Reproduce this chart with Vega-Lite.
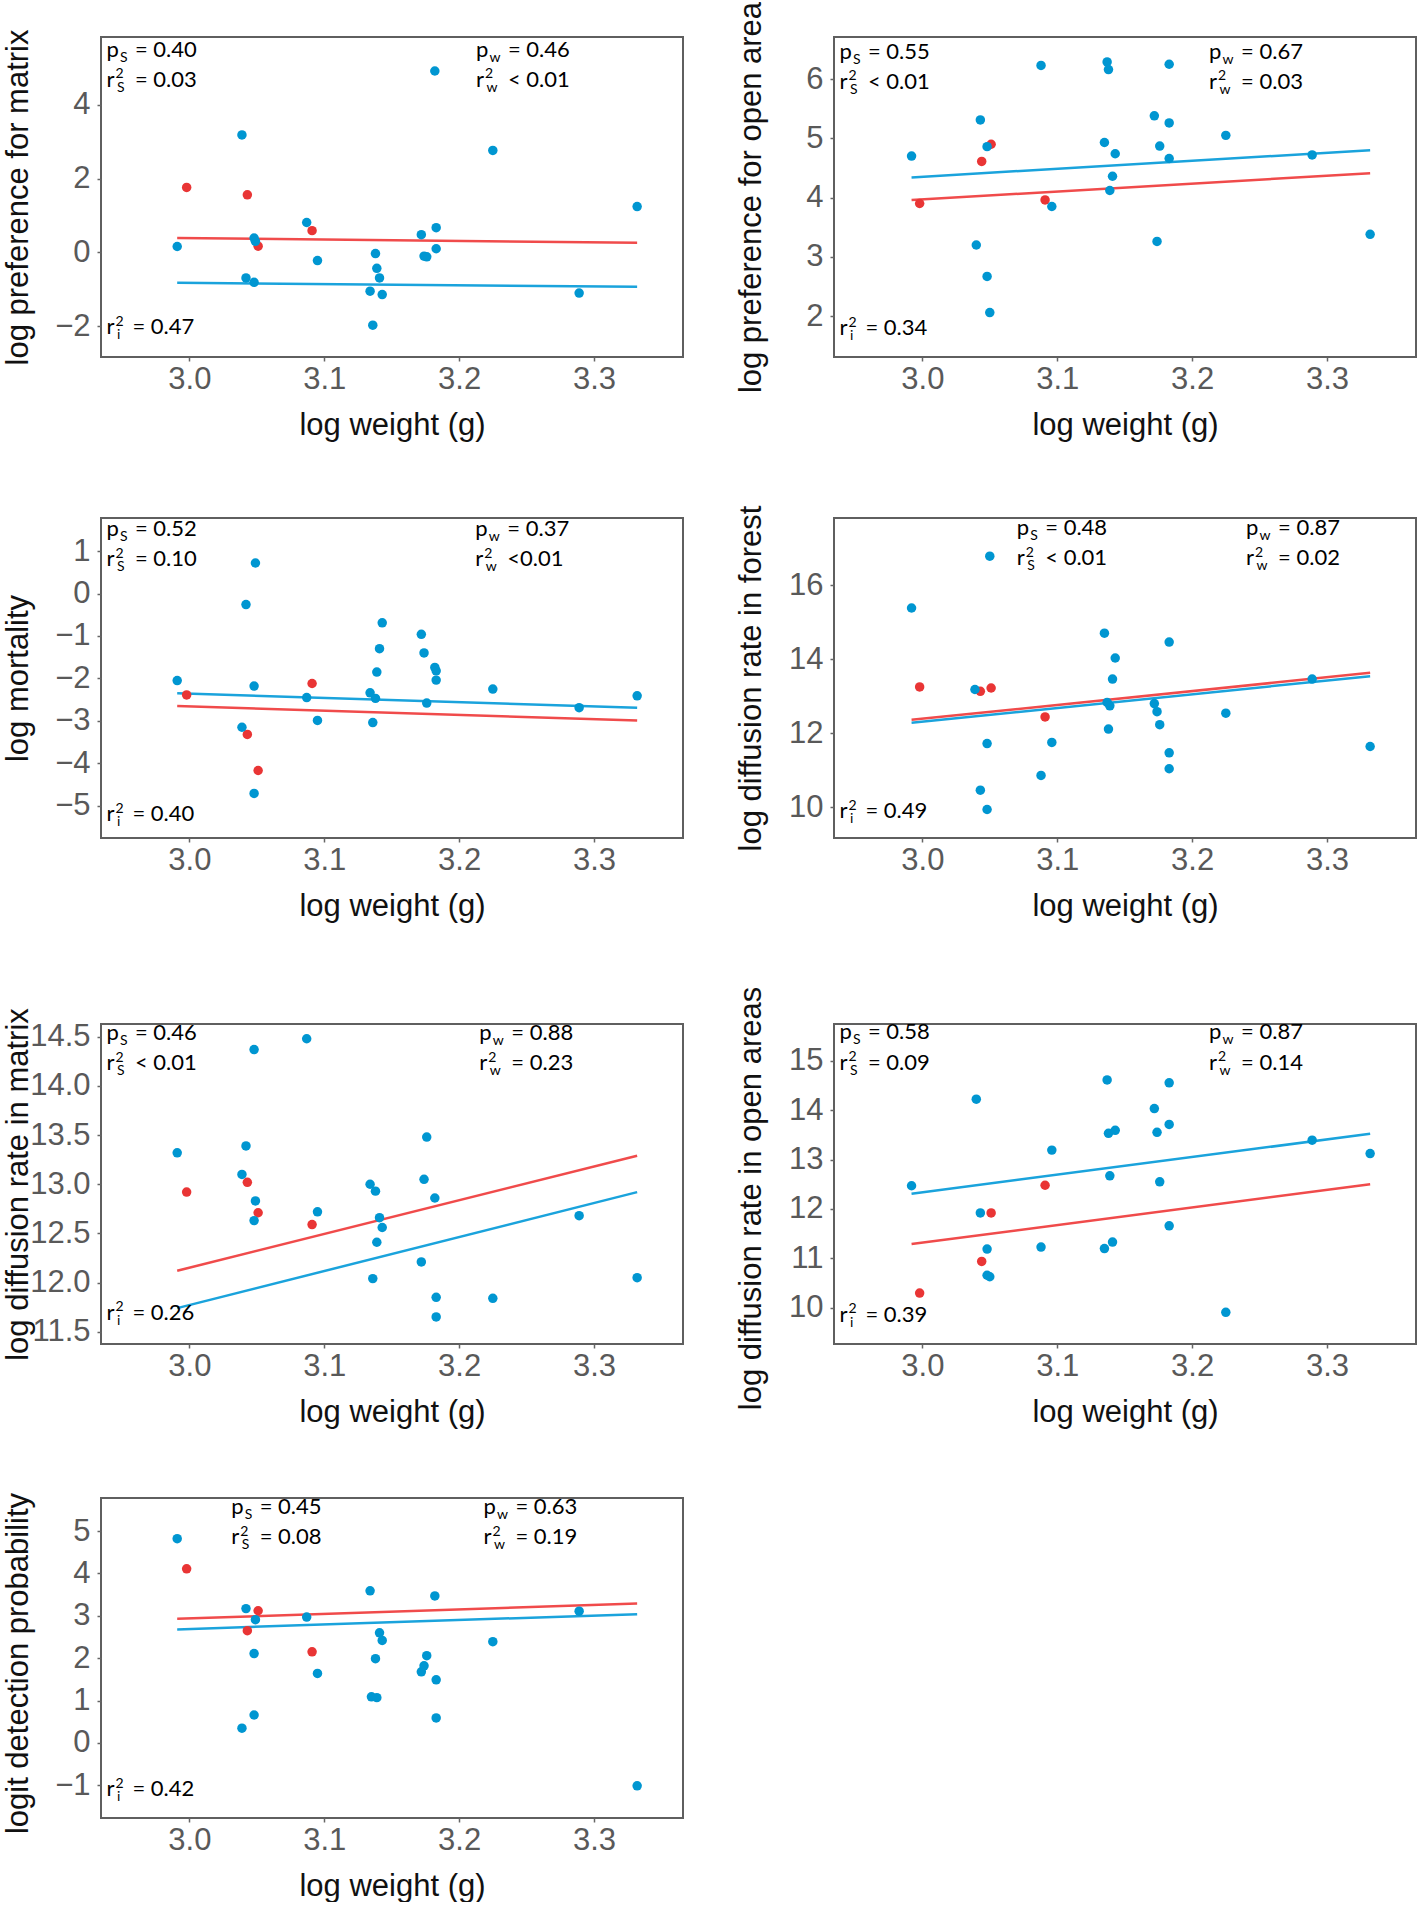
{
  "$schema": "https://vega.github.io/schema/vega-lite/v6.json",
  "background": "white",
  "padding": {"left": 0, "top": 0, "right": 0, "bottom": 0},
  "spacing": 63,
  "config": {
    "view": {"stroke": "#5f5f5f", "strokeWidth": 2},
    "axis": {"domain": false, "grid": false, "tickColor": "#666666", "tickSize": 4, "tickWidth": 1.5, "labelFont": "Liberation Sans", "labelFontSize": 31, "labelColor": "#595959", "titleFont": "Liberation Sans", "titleFontSize": 31, "titleFontWeight": "normal", "titleColor": "#111111"},
    "axisX": {"labelBaseline": "alphabetic", "labelPadding": 27, "titleY": 77, "titleBaseline": "alphabetic"},
    "axisY": {"labelPadding": 7, "titleX": -74, "titleY": 160, "titleBaseline": "alphabetic"}
  },
  "datasets": {
    "d": [
      {"p":1,"k":"ln","c":"B","x":2.991,"y":0.39},{"p":1,"k":"ln","c":"B","x":3.332,"y":0.26},
      {"p":1,"k":"ln","c":"A","x":2.991,"y":-0.82},{"p":1,"k":"ln","c":"A","x":3.332,"y":-0.93},
      {"p":1,"k":"pt","c":"B","x":2.998,"y":1.76},{"p":1,"k":"pt","c":"B","x":3.043,"y":1.56},{"p":1,"k":"pt","c":"B","x":3.051,"y":0.17},{"p":1,"k":"pt","c":"B","x":3.091,"y":0.59},
      {"p":1,"k":"pt","c":"A","x":2.991,"y":0.16},{"p":1,"k":"pt","c":"A","x":3.039,"y":3.18},{"p":1,"k":"pt","c":"A","x":3.042,"y":-0.69},{"p":1,"k":"pt","c":"A","x":3.048,"y":0.39},{"p":1,"k":"pt","c":"A","x":3.049,"y":0.30},{"p":1,"k":"pt","c":"A","x":3.048,"y":-0.81},{"p":1,"k":"pt","c":"A","x":3.087,"y":0.81},{"p":1,"k":"pt","c":"A","x":3.095,"y":-0.22},{"p":1,"k":"pt","c":"A","x":3.134,"y":-1.05},{"p":1,"k":"pt","c":"A","x":3.138,"y":-0.03},{"p":1,"k":"pt","c":"A","x":3.139,"y":-0.43},{"p":1,"k":"pt","c":"A","x":3.141,"y":-0.69},{"p":1,"k":"pt","c":"A","x":3.143,"y":-1.14},{"p":1,"k":"pt","c":"A","x":3.136,"y":-1.97},{"p":1,"k":"pt","c":"A","x":3.172,"y":0.48},{"p":1,"k":"pt","c":"A","x":3.174,"y":-0.10},{"p":1,"k":"pt","c":"A","x":3.176,"y":-0.12},{"p":1,"k":"pt","c":"A","x":3.182,"y":4.91},{"p":1,"k":"pt","c":"A","x":3.183,"y":0.67},{"p":1,"k":"pt","c":"A","x":3.183,"y":0.10},{"p":1,"k":"pt","c":"A","x":3.225,"y":2.76},{"p":1,"k":"pt","c":"A","x":3.289,"y":-1.10},{"p":1,"k":"pt","c":"A","x":3.332,"y":1.24},
      {"p":1,"k":"an","x":2.9385,"y":5.29,"b":"p","s":"S","v":"= 0.40"},{"p":1,"k":"an","x":2.9385,"y":4.48,"b":"r","s":"S","v":"= 0.03"},{"p":1,"k":"an","x":3.2125,"y":5.29,"b":"p","s":"w","v":"= 0.46"},{"p":1,"k":"an","x":3.2125,"y":4.48,"b":"r","s":"w","v":"< 0.01"},{"p":1,"k":"an","x":2.9385,"y":-2.22,"b":"r","s":"i","v":"= 0.47"},

      {"p":2,"k":"ln","c":"B","x":2.992,"y":3.96},{"p":2,"k":"ln","c":"B","x":3.332,"y":4.41},
      {"p":2,"k":"ln","c":"A","x":2.992,"y":4.34},{"p":2,"k":"ln","c":"A","x":3.332,"y":4.80},
      {"p":2,"k":"pt","c":"B","x":2.998,"y":3.90},{"p":2,"k":"pt","c":"B","x":3.044,"y":4.61},{"p":2,"k":"pt","c":"B","x":3.051,"y":4.90},{"p":2,"k":"pt","c":"B","x":3.091,"y":3.96},
      {"p":2,"k":"pt","c":"A","x":2.992,"y":4.70},{"p":2,"k":"pt","c":"A","x":3.040,"y":3.20},{"p":2,"k":"pt","c":"A","x":3.043,"y":5.31},{"p":2,"k":"pt","c":"A","x":3.048,"y":4.86},{"p":2,"k":"pt","c":"A","x":3.048,"y":2.67},{"p":2,"k":"pt","c":"A","x":3.050,"y":2.06},{"p":2,"k":"pt","c":"A","x":3.088,"y":6.23},{"p":2,"k":"pt","c":"A","x":3.096,"y":3.85},{"p":2,"k":"pt","c":"A","x":3.135,"y":4.93},{"p":2,"k":"pt","c":"A","x":3.137,"y":6.29},{"p":2,"k":"pt","c":"A","x":3.138,"y":6.16},{"p":2,"k":"pt","c":"A","x":3.139,"y":4.12},{"p":2,"k":"pt","c":"A","x":3.141,"y":4.36},{"p":2,"k":"pt","c":"A","x":3.143,"y":4.74},{"p":2,"k":"pt","c":"A","x":3.172,"y":5.38},{"p":2,"k":"pt","c":"A","x":3.174,"y":3.26},{"p":2,"k":"pt","c":"A","x":3.176,"y":4.87},{"p":2,"k":"pt","c":"A","x":3.183,"y":5.26},{"p":2,"k":"pt","c":"A","x":3.183,"y":4.66},{"p":2,"k":"pt","c":"A","x":3.183,"y":6.25},{"p":2,"k":"pt","c":"A","x":3.225,"y":5.05},{"p":2,"k":"pt","c":"A","x":3.289,"y":4.72},{"p":2,"k":"pt","c":"A","x":3.332,"y":3.38},
      {"p":2,"k":"an","x":2.9385,"y":6.34,"b":"p","s":"S","v":"= 0.55"},{"p":2,"k":"an","x":2.9385,"y":5.84,"b":"r","s":"S","v":"< 0.01"},{"p":2,"k":"an","x":3.2126,"y":6.34,"b":"p","s":"w","v":"=  0.67"},{"p":2,"k":"an","x":3.2126,"y":5.84,"b":"r","s":"w","v":"= 0.03"},{"p":2,"k":"an","x":2.9385,"y":1.68,"b":"r","s":"i","v":"= 0.34"},

      {"p":3,"k":"ln","c":"B","x":2.991,"y":-2.65},{"p":3,"k":"ln","c":"B","x":3.332,"y":-2.99},
      {"p":3,"k":"ln","c":"A","x":2.991,"y":-2.35},{"p":3,"k":"ln","c":"A","x":3.332,"y":-2.69},
      {"p":3,"k":"pt","c":"B","x":2.998,"y":-2.39},{"p":3,"k":"pt","c":"B","x":3.043,"y":-3.32},{"p":3,"k":"pt","c":"B","x":3.051,"y":-4.17},{"p":3,"k":"pt","c":"B","x":3.091,"y":-2.12},
      {"p":3,"k":"pt","c":"A","x":2.991,"y":-2.05},{"p":3,"k":"pt","c":"A","x":3.039,"y":-3.15},{"p":3,"k":"pt","c":"A","x":3.042,"y":-0.26},{"p":3,"k":"pt","c":"A","x":3.048,"y":-2.18},{"p":3,"k":"pt","c":"A","x":3.049,"y":0.72},{"p":3,"k":"pt","c":"A","x":3.048,"y":-4.71},{"p":3,"k":"pt","c":"A","x":3.087,"y":-2.45},{"p":3,"k":"pt","c":"A","x":3.095,"y":-2.99},{"p":3,"k":"pt","c":"A","x":3.134,"y":-2.34},{"p":3,"k":"pt","c":"A","x":3.136,"y":-3.04},{"p":3,"k":"pt","c":"A","x":3.138,"y":-2.47},{"p":3,"k":"pt","c":"A","x":3.139,"y":-1.85},{"p":3,"k":"pt","c":"A","x":3.141,"y":-1.30},{"p":3,"k":"pt","c":"A","x":3.143,"y":-0.69},{"p":3,"k":"pt","c":"A","x":3.172,"y":-0.96},{"p":3,"k":"pt","c":"A","x":3.174,"y":-1.40},{"p":3,"k":"pt","c":"A","x":3.176,"y":-2.58},{"p":3,"k":"pt","c":"A","x":3.182,"y":-1.74},{"p":3,"k":"pt","c":"A","x":3.183,"y":-1.82},{"p":3,"k":"pt","c":"A","x":3.183,"y":-2.04},{"p":3,"k":"pt","c":"A","x":3.225,"y":-2.25},{"p":3,"k":"pt","c":"A","x":3.289,"y":-2.69},{"p":3,"k":"pt","c":"A","x":3.332,"y":-2.41},
      {"p":3,"k":"an","x":2.9385,"y":1.35,"b":"p","s":"S","v":"= 0.52"},{"p":3,"k":"an","x":2.9385,"y":0.64,"b":"r","s":"S","v":"= 0.10"},{"p":3,"k":"an","x":3.212,"y":1.35,"b":"p","s":"w","v":"= 0.37"},{"p":3,"k":"an","x":3.212,"y":0.64,"b":"r","s":"w","v":"<0.01"},{"p":3,"k":"an","x":2.9385,"y":-5.37,"b":"r","s":"i","v":"= 0.40"},

      {"p":4,"k":"ln","c":"B","x":2.992,"y":12.36},{"p":4,"k":"ln","c":"B","x":3.332,"y":13.63},
      {"p":4,"k":"ln","c":"A","x":2.992,"y":12.28},{"p":4,"k":"ln","c":"A","x":3.332,"y":13.54},
      {"p":4,"k":"pt","c":"B","x":2.998,"y":13.25},{"p":4,"k":"pt","c":"B","x":3.043,"y":13.13},{"p":4,"k":"pt","c":"B","x":3.051,"y":13.22},{"p":4,"k":"pt","c":"B","x":3.091,"y":12.44},
      {"p":4,"k":"pt","c":"A","x":2.992,"y":15.38},{"p":4,"k":"pt","c":"A","x":3.039,"y":13.18},{"p":4,"k":"pt","c":"A","x":3.043,"y":10.46},{"p":4,"k":"pt","c":"A","x":3.048,"y":11.72},{"p":4,"k":"pt","c":"A","x":3.048,"y":9.94},{"p":4,"k":"pt","c":"A","x":3.050,"y":16.78},{"p":4,"k":"pt","c":"A","x":3.088,"y":10.86},{"p":4,"k":"pt","c":"A","x":3.096,"y":11.75},{"p":4,"k":"pt","c":"A","x":3.135,"y":14.70},{"p":4,"k":"pt","c":"A","x":3.137,"y":12.83},{"p":4,"k":"pt","c":"A","x":3.138,"y":12.11},{"p":4,"k":"pt","c":"A","x":3.139,"y":12.74},{"p":4,"k":"pt","c":"A","x":3.141,"y":13.46},{"p":4,"k":"pt","c":"A","x":3.143,"y":14.03},{"p":4,"k":"pt","c":"A","x":3.172,"y":12.80},{"p":4,"k":"pt","c":"A","x":3.174,"y":12.58},{"p":4,"k":"pt","c":"A","x":3.176,"y":12.23},{"p":4,"k":"pt","c":"A","x":3.183,"y":14.46},{"p":4,"k":"pt","c":"A","x":3.183,"y":11.47},{"p":4,"k":"pt","c":"A","x":3.183,"y":11.04},{"p":4,"k":"pt","c":"A","x":3.225,"y":12.54},{"p":4,"k":"pt","c":"A","x":3.289,"y":13.46},{"p":4,"k":"pt","c":"A","x":3.332,"y":11.64},
      {"p":4,"k":"an","x":3.070,"y":17.35,"b":"p","s":"S","v":"= 0.48"},{"p":4,"k":"an","x":3.070,"y":16.54,"b":"r","s":"S","v":"< 0.01"},{"p":4,"k":"an","x":3.240,"y":17.35,"b":"p","s":"w","v":"= 0.87"},{"p":4,"k":"an","x":3.240,"y":16.54,"b":"r","s":"w","v":"= 0.02"},{"p":4,"k":"an","x":2.9385,"y":9.71,"b":"r","s":"i","v":"= 0.49"},

      {"p":5,"k":"ln","c":"B","x":2.991,"y":12.12},{"p":5,"k":"ln","c":"B","x":3.332,"y":13.29},
      {"p":5,"k":"ln","c":"A","x":2.991,"y":11.74},{"p":5,"k":"ln","c":"A","x":3.332,"y":12.92},
      {"p":5,"k":"pt","c":"B","x":2.998,"y":12.92},{"p":5,"k":"pt","c":"B","x":3.043,"y":13.02},{"p":5,"k":"pt","c":"B","x":3.051,"y":12.71},{"p":5,"k":"pt","c":"B","x":3.091,"y":12.59},
      {"p":5,"k":"pt","c":"A","x":2.991,"y":13.32},{"p":5,"k":"pt","c":"A","x":3.039,"y":13.10},{"p":5,"k":"pt","c":"A","x":3.042,"y":13.39},{"p":5,"k":"pt","c":"A","x":3.048,"y":14.37},{"p":5,"k":"pt","c":"A","x":3.049,"y":12.83},{"p":5,"k":"pt","c":"A","x":3.048,"y":12.63},{"p":5,"k":"pt","c":"A","x":3.087,"y":14.48},{"p":5,"k":"pt","c":"A","x":3.095,"y":12.72},{"p":5,"k":"pt","c":"A","x":3.134,"y":13.00},{"p":5,"k":"pt","c":"A","x":3.136,"y":12.04},{"p":5,"k":"pt","c":"A","x":3.138,"y":12.93},{"p":5,"k":"pt","c":"A","x":3.139,"y":12.41},{"p":5,"k":"pt","c":"A","x":3.141,"y":12.66},{"p":5,"k":"pt","c":"A","x":3.143,"y":12.56},{"p":5,"k":"pt","c":"A","x":3.172,"y":12.21},{"p":5,"k":"pt","c":"A","x":3.174,"y":13.05},{"p":5,"k":"pt","c":"A","x":3.176,"y":13.48},{"p":5,"k":"pt","c":"A","x":3.182,"y":12.86},{"p":5,"k":"pt","c":"A","x":3.183,"y":11.85},{"p":5,"k":"pt","c":"A","x":3.183,"y":11.65},{"p":5,"k":"pt","c":"A","x":3.225,"y":11.84},{"p":5,"k":"pt","c":"A","x":3.289,"y":12.68},{"p":5,"k":"pt","c":"A","x":3.332,"y":12.05},
      {"p":5,"k":"an","x":2.9385,"y":14.47,"b":"p","s":"S","v":"= 0.46"},{"p":5,"k":"an","x":2.9385,"y":14.16,"b":"r","s":"S","v":"< 0.01"},{"p":5,"k":"an","x":3.215,"y":14.47,"b":"p","s":"w","v":"= 0.88"},{"p":5,"k":"an","x":3.215,"y":14.16,"b":"r","s":"w","v":"= 0.23"},{"p":5,"k":"an","x":2.9385,"y":11.62,"b":"r","s":"i","v":"= 0.26"},

      {"p":6,"k":"ln","c":"B","x":2.992,"y":11.29},{"p":6,"k":"ln","c":"B","x":3.332,"y":12.50},
      {"p":6,"k":"ln","c":"A","x":2.992,"y":12.31},{"p":6,"k":"ln","c":"A","x":3.332,"y":13.52},
      {"p":6,"k":"pt","c":"B","x":2.998,"y":10.30},{"p":6,"k":"pt","c":"B","x":3.044,"y":10.94},{"p":6,"k":"pt","c":"B","x":3.051,"y":11.92},{"p":6,"k":"pt","c":"B","x":3.091,"y":12.48},
      {"p":6,"k":"pt","c":"A","x":2.992,"y":12.47},{"p":6,"k":"pt","c":"A","x":3.040,"y":14.22},{"p":6,"k":"pt","c":"A","x":3.043,"y":11.92},{"p":6,"k":"pt","c":"A","x":3.048,"y":11.19},{"p":6,"k":"pt","c":"A","x":3.048,"y":10.66},{"p":6,"k":"pt","c":"A","x":3.050,"y":10.63},{"p":6,"k":"pt","c":"A","x":3.088,"y":11.23},{"p":6,"k":"pt","c":"A","x":3.096,"y":13.19},{"p":6,"k":"pt","c":"A","x":3.135,"y":11.20},{"p":6,"k":"pt","c":"A","x":3.137,"y":14.61},{"p":6,"k":"pt","c":"A","x":3.138,"y":13.53},{"p":6,"k":"pt","c":"A","x":3.139,"y":12.67},{"p":6,"k":"pt","c":"A","x":3.141,"y":11.33},{"p":6,"k":"pt","c":"A","x":3.143,"y":13.59},{"p":6,"k":"pt","c":"A","x":3.172,"y":14.03},{"p":6,"k":"pt","c":"A","x":3.174,"y":13.55},{"p":6,"k":"pt","c":"A","x":3.176,"y":12.55},{"p":6,"k":"pt","c":"A","x":3.183,"y":13.71},{"p":6,"k":"pt","c":"A","x":3.183,"y":11.66},{"p":6,"k":"pt","c":"A","x":3.183,"y":14.55},{"p":6,"k":"pt","c":"A","x":3.225,"y":9.91},{"p":6,"k":"pt","c":"A","x":3.289,"y":13.39},{"p":6,"k":"pt","c":"A","x":3.332,"y":13.12},
      {"p":6,"k":"an","x":2.9385,"y":15.43,"b":"p","s":"S","v":"= 0.58"},{"p":6,"k":"an","x":2.9385,"y":14.82,"b":"r","s":"S","v":"= 0.09"},{"p":6,"k":"an","x":3.2126,"y":15.43,"b":"p","s":"w","v":"=  0.87"},{"p":6,"k":"an","x":3.2126,"y":14.82,"b":"r","s":"w","v":"= 0.14"},{"p":6,"k":"an","x":2.9385,"y":9.72,"b":"r","s":"i","v":"= 0.39"},

      {"p":7,"k":"ln","c":"B","x":2.991,"y":2.93},{"p":7,"k":"ln","c":"B","x":3.332,"y":3.29},
      {"p":7,"k":"ln","c":"A","x":2.991,"y":2.68},{"p":7,"k":"ln","c":"A","x":3.332,"y":3.04},
      {"p":7,"k":"pt","c":"B","x":2.998,"y":4.11},{"p":7,"k":"pt","c":"B","x":3.043,"y":2.65},{"p":7,"k":"pt","c":"B","x":3.051,"y":3.12},{"p":7,"k":"pt","c":"B","x":3.091,"y":2.15},
      {"p":7,"k":"pt","c":"A","x":2.991,"y":4.82},{"p":7,"k":"pt","c":"A","x":3.039,"y":0.35},{"p":7,"k":"pt","c":"A","x":3.042,"y":3.17},{"p":7,"k":"pt","c":"A","x":3.048,"y":2.11},{"p":7,"k":"pt","c":"A","x":3.049,"y":2.91},{"p":7,"k":"pt","c":"A","x":3.048,"y":0.66},{"p":7,"k":"pt","c":"A","x":3.087,"y":2.97},{"p":7,"k":"pt","c":"A","x":3.095,"y":1.64},{"p":7,"k":"pt","c":"A","x":3.134,"y":3.59},{"p":7,"k":"pt","c":"A","x":3.135,"y":1.09},{"p":7,"k":"pt","c":"A","x":3.138,"y":1.99},{"p":7,"k":"pt","c":"A","x":3.139,"y":1.07},{"p":7,"k":"pt","c":"A","x":3.141,"y":2.60},{"p":7,"k":"pt","c":"A","x":3.143,"y":2.42},{"p":7,"k":"pt","c":"A","x":3.172,"y":1.68},{"p":7,"k":"pt","c":"A","x":3.174,"y":1.82},{"p":7,"k":"pt","c":"A","x":3.176,"y":2.06},{"p":7,"k":"pt","c":"A","x":3.182,"y":3.47},{"p":7,"k":"pt","c":"A","x":3.183,"y":1.49},{"p":7,"k":"pt","c":"A","x":3.183,"y":0.59},{"p":7,"k":"pt","c":"A","x":3.225,"y":2.39},{"p":7,"k":"pt","c":"A","x":3.289,"y":3.11},{"p":7,"k":"pt","c":"A","x":3.332,"y":-1.01},
      {"p":7,"k":"an","x":3.031,"y":5.40,"b":"p","s":"S","v":"= 0.45"},{"p":7,"k":"an","x":3.031,"y":4.69,"b":"r","s":"S","v":"= 0.08"},{"p":7,"k":"an","x":3.218,"y":5.40,"b":"p","s":"w","v":"= 0.63"},{"p":7,"k":"an","x":3.218,"y":4.69,"b":"r","s":"w","v":"= 0.19"},{"p":7,"k":"an","x":2.9385,"y":-1.26,"b":"r","s":"i","v":"= 0.42"}
    ]
  },
  "vconcat": [
    {"spacing": 49, "hconcat": [
      {"width": 582, "height": 320, "data": {"name": "d"}, "transform": [{"filter": "datum.p == 1"}],
       "encoding": {
         "x": {"field": "x", "type": "quantitative", "scale": {"domain": [2.9345, 3.366], "nice": false, "zero": false}, "axis": {"values": [3.0, 3.1, 3.2, 3.3], "format": ".1f", "title": "log weight (g)"}},
         "y": {"field": "y", "type": "quantitative", "scale": {"domain": [-2.83, 5.83], "nice": false, "zero": false}, "axis": {"values": [-2, 0, 2, 4], "title": "log preference for matrix"}}},
       "layer": [
         {"transform": [{"filter": "datum.k == 'ln'"}], "mark": {"type": "line", "strokeWidth": 2.5}, "encoding": {"stroke": {"field": "c", "type": "nominal", "scale": {"domain": ["A", "B"], "range": ["#1aa3dc", "#f04b4b"]}, "legend": null}}},
         {"transform": [{"filter": "datum.k == 'pt'"}], "mark": {"type": "circle", "size": 90, "opacity": 1}, "encoding": {"fill": {"field": "c", "type": "nominal", "scale": {"domain": ["A", "B"], "range": ["#0096d1", "#e93535"]}, "legend": null}}},
         {"transform": [{"filter": "datum.k == 'an'"}], "mark": {"type": "text", "font": "Lato", "fontSize": 22, "align": "left", "baseline": "alphabetic", "color": "#000000"}, "encoding": {"text": {"field": "b"}}},
         {"transform": [{"filter": "datum.k == 'an' && datum.b == 'r'"}], "mark": {"type": "text", "font": "Lato", "fontSize": 14, "align": "left", "baseline": "alphabetic", "color": "#000000", "dx": 9, "dy": -8.5, "text": "2"}},
         {"transform": [{"filter": "datum.k == 'an' && datum.b == 'p'"}], "mark": {"type": "text", "font": "Lato", "fontSize": 14, "align": "left", "baseline": "alphabetic", "color": "#000000", "dx": 13.5, "dy": 5}, "encoding": {"text": {"field": "s"}}},
         {"transform": [{"filter": "datum.k == 'an' && datum.b == 'r'"}], "mark": {"type": "text", "font": "Lato", "fontSize": 14, "align": "left", "baseline": "alphabetic", "color": "#000000", "dx": 10.5, "dy": 5}, "encoding": {"text": {"field": "s"}}},
         {"transform": [{"filter": "datum.k == 'an' && datum.s == 'S'"}], "mark": {"type": "text", "font": "Lato", "fontSize": 22, "align": "left", "baseline": "alphabetic", "color": "#000000", "dx": 28.5}, "encoding": {"text": {"field": "v"}}},
         {"transform": [{"filter": "datum.k == 'an' && datum.s == 'w' && datum.b == 'p'"}], "mark": {"type": "text", "font": "Lato", "fontSize": 22, "align": "left", "baseline": "alphabetic", "color": "#000000", "dx": 32}, "encoding": {"text": {"field": "v"}}},
         {"transform": [{"filter": "datum.k == 'an' && datum.s == 'w' && datum.b == 'r'"}], "mark": {"type": "text", "font": "Lato", "fontSize": 22, "align": "left", "baseline": "alphabetic", "color": "#000000", "dx": 32}, "encoding": {"text": {"field": "v"}}},
         {"transform": [{"filter": "datum.k == 'an' && datum.s == 'i'"}], "mark": {"type": "text", "font": "Lato", "fontSize": 22, "align": "left", "baseline": "alphabetic", "color": "#000000", "dx": 26}, "encoding": {"text": {"field": "v"}}}
       ]},
      {"width": 582, "height": 320, "data": {"name": "d"}, "transform": [{"filter": "datum.p == 2"}],
       "encoding": {
         "x": {"field": "x", "type": "quantitative", "scale": {"domain": [2.9345, 3.366], "nice": false, "zero": false}, "axis": {"values": [3.0, 3.1, 3.2, 3.3], "format": ".1f", "title": "log weight (g)"}},
         "y": {"field": "y", "type": "quantitative", "scale": {"domain": [1.31, 6.71], "nice": false, "zero": false}, "axis": {"values": [2, 3, 4, 5, 6], "title": "log preference for open area"}}},
       "layer": [
         {"transform": [{"filter": "datum.k == 'ln'"}], "mark": {"type": "line", "strokeWidth": 2.5}, "encoding": {"stroke": {"field": "c", "type": "nominal", "scale": {"domain": ["A", "B"], "range": ["#1aa3dc", "#f04b4b"]}, "legend": null}}},
         {"transform": [{"filter": "datum.k == 'pt'"}], "mark": {"type": "circle", "size": 90, "opacity": 1}, "encoding": {"fill": {"field": "c", "type": "nominal", "scale": {"domain": ["A", "B"], "range": ["#0096d1", "#e93535"]}, "legend": null}}},
         {"transform": [{"filter": "datum.k == 'an'"}], "mark": {"type": "text", "font": "Lato", "fontSize": 22, "align": "left", "baseline": "alphabetic", "color": "#000000"}, "encoding": {"text": {"field": "b"}}},
         {"transform": [{"filter": "datum.k == 'an' && datum.b == 'r'"}], "mark": {"type": "text", "font": "Lato", "fontSize": 14, "align": "left", "baseline": "alphabetic", "color": "#000000", "dx": 9, "dy": -8.5, "text": "2"}},
         {"transform": [{"filter": "datum.k == 'an' && datum.b == 'p'"}], "mark": {"type": "text", "font": "Lato", "fontSize": 14, "align": "left", "baseline": "alphabetic", "color": "#000000", "dx": 13.5, "dy": 5}, "encoding": {"text": {"field": "s"}}},
         {"transform": [{"filter": "datum.k == 'an' && datum.b == 'r'"}], "mark": {"type": "text", "font": "Lato", "fontSize": 14, "align": "left", "baseline": "alphabetic", "color": "#000000", "dx": 10.5, "dy": 5}, "encoding": {"text": {"field": "s"}}},
         {"transform": [{"filter": "datum.k == 'an' && datum.s == 'S'"}], "mark": {"type": "text", "font": "Lato", "fontSize": 22, "align": "left", "baseline": "alphabetic", "color": "#000000", "dx": 28.5}, "encoding": {"text": {"field": "v"}}},
         {"transform": [{"filter": "datum.k == 'an' && datum.s == 'w' && datum.b == 'p'"}], "mark": {"type": "text", "font": "Lato", "fontSize": 22, "align": "left", "baseline": "alphabetic", "color": "#000000", "dx": 32}, "encoding": {"text": {"field": "v"}}},
         {"transform": [{"filter": "datum.k == 'an' && datum.s == 'w' && datum.b == 'r'"}], "mark": {"type": "text", "font": "Lato", "fontSize": 22, "align": "left", "baseline": "alphabetic", "color": "#000000", "dx": 32}, "encoding": {"text": {"field": "v"}}},
         {"transform": [{"filter": "datum.k == 'an' && datum.s == 'i'"}], "mark": {"type": "text", "font": "Lato", "fontSize": 22, "align": "left", "baseline": "alphabetic", "color": "#000000", "dx": 26}, "encoding": {"text": {"field": "v"}}}
       ]}
    ]},
    {"spacing": 49, "hconcat": [
      {"width": 582, "height": 320, "data": {"name": "d"}, "transform": [{"filter": "datum.p == 3"}],
       "encoding": {
         "x": {"field": "x", "type": "quantitative", "scale": {"domain": [2.9345, 3.366], "nice": false, "zero": false}, "axis": {"values": [3.0, 3.1, 3.2, 3.3], "format": ".1f", "title": "log weight (g)"}},
         "y": {"field": "y", "type": "quantitative", "scale": {"domain": [-5.76, 1.78], "nice": false, "zero": false}, "axis": {"values": [-5, -4, -3, -2, -1, 0, 1], "title": "log mortality"}}},
       "layer": [
         {"transform": [{"filter": "datum.k == 'ln'"}], "mark": {"type": "line", "strokeWidth": 2.5}, "encoding": {"stroke": {"field": "c", "type": "nominal", "scale": {"domain": ["A", "B"], "range": ["#1aa3dc", "#f04b4b"]}, "legend": null}}},
         {"transform": [{"filter": "datum.k == 'pt'"}], "mark": {"type": "circle", "size": 90, "opacity": 1}, "encoding": {"fill": {"field": "c", "type": "nominal", "scale": {"domain": ["A", "B"], "range": ["#0096d1", "#e93535"]}, "legend": null}}},
         {"transform": [{"filter": "datum.k == 'an'"}], "mark": {"type": "text", "font": "Lato", "fontSize": 22, "align": "left", "baseline": "alphabetic", "color": "#000000"}, "encoding": {"text": {"field": "b"}}},
         {"transform": [{"filter": "datum.k == 'an' && datum.b == 'r'"}], "mark": {"type": "text", "font": "Lato", "fontSize": 14, "align": "left", "baseline": "alphabetic", "color": "#000000", "dx": 9, "dy": -8.5, "text": "2"}},
         {"transform": [{"filter": "datum.k == 'an' && datum.b == 'p'"}], "mark": {"type": "text", "font": "Lato", "fontSize": 14, "align": "left", "baseline": "alphabetic", "color": "#000000", "dx": 13.5, "dy": 5}, "encoding": {"text": {"field": "s"}}},
         {"transform": [{"filter": "datum.k == 'an' && datum.b == 'r'"}], "mark": {"type": "text", "font": "Lato", "fontSize": 14, "align": "left", "baseline": "alphabetic", "color": "#000000", "dx": 10.5, "dy": 5}, "encoding": {"text": {"field": "s"}}},
         {"transform": [{"filter": "datum.k == 'an' && datum.s == 'S'"}], "mark": {"type": "text", "font": "Lato", "fontSize": 22, "align": "left", "baseline": "alphabetic", "color": "#000000", "dx": 28.5}, "encoding": {"text": {"field": "v"}}},
         {"transform": [{"filter": "datum.k == 'an' && datum.s == 'w' && datum.b == 'p'"}], "mark": {"type": "text", "font": "Lato", "fontSize": 22, "align": "left", "baseline": "alphabetic", "color": "#000000", "dx": 32}, "encoding": {"text": {"field": "v"}}},
         {"transform": [{"filter": "datum.k == 'an' && datum.s == 'w' && datum.b == 'r'"}], "mark": {"type": "text", "font": "Lato", "fontSize": 22, "align": "left", "baseline": "alphabetic", "color": "#000000", "dx": 32}, "encoding": {"text": {"field": "v"}}},
         {"transform": [{"filter": "datum.k == 'an' && datum.s == 'i'"}], "mark": {"type": "text", "font": "Lato", "fontSize": 22, "align": "left", "baseline": "alphabetic", "color": "#000000", "dx": 26}, "encoding": {"text": {"field": "v"}}}
       ]},
      {"width": 582, "height": 320, "data": {"name": "d"}, "transform": [{"filter": "datum.p == 4"}],
       "encoding": {
         "x": {"field": "x", "type": "quantitative", "scale": {"domain": [2.9345, 3.366], "nice": false, "zero": false}, "axis": {"values": [3.0, 3.1, 3.2, 3.3], "format": ".1f", "title": "log weight (g)"}},
         "y": {"field": "y", "type": "quantitative", "scale": {"domain": [9.17, 17.81], "nice": false, "zero": false}, "axis": {"values": [10, 12, 14, 16], "title": "log diffusion rate in forest"}}},
       "layer": [
         {"transform": [{"filter": "datum.k == 'ln'"}], "mark": {"type": "line", "strokeWidth": 2.5}, "encoding": {"stroke": {"field": "c", "type": "nominal", "scale": {"domain": ["A", "B"], "range": ["#1aa3dc", "#f04b4b"]}, "legend": null}}},
         {"transform": [{"filter": "datum.k == 'pt'"}], "mark": {"type": "circle", "size": 90, "opacity": 1}, "encoding": {"fill": {"field": "c", "type": "nominal", "scale": {"domain": ["A", "B"], "range": ["#0096d1", "#e93535"]}, "legend": null}}},
         {"transform": [{"filter": "datum.k == 'an'"}], "mark": {"type": "text", "font": "Lato", "fontSize": 22, "align": "left", "baseline": "alphabetic", "color": "#000000"}, "encoding": {"text": {"field": "b"}}},
         {"transform": [{"filter": "datum.k == 'an' && datum.b == 'r'"}], "mark": {"type": "text", "font": "Lato", "fontSize": 14, "align": "left", "baseline": "alphabetic", "color": "#000000", "dx": 9, "dy": -8.5, "text": "2"}},
         {"transform": [{"filter": "datum.k == 'an' && datum.b == 'p'"}], "mark": {"type": "text", "font": "Lato", "fontSize": 14, "align": "left", "baseline": "alphabetic", "color": "#000000", "dx": 13.5, "dy": 5}, "encoding": {"text": {"field": "s"}}},
         {"transform": [{"filter": "datum.k == 'an' && datum.b == 'r'"}], "mark": {"type": "text", "font": "Lato", "fontSize": 14, "align": "left", "baseline": "alphabetic", "color": "#000000", "dx": 10.5, "dy": 5}, "encoding": {"text": {"field": "s"}}},
         {"transform": [{"filter": "datum.k == 'an' && datum.s == 'S'"}], "mark": {"type": "text", "font": "Lato", "fontSize": 22, "align": "left", "baseline": "alphabetic", "color": "#000000", "dx": 28.5}, "encoding": {"text": {"field": "v"}}},
         {"transform": [{"filter": "datum.k == 'an' && datum.s == 'w' && datum.b == 'p'"}], "mark": {"type": "text", "font": "Lato", "fontSize": 22, "align": "left", "baseline": "alphabetic", "color": "#000000", "dx": 32}, "encoding": {"text": {"field": "v"}}},
         {"transform": [{"filter": "datum.k == 'an' && datum.s == 'w' && datum.b == 'r'"}], "mark": {"type": "text", "font": "Lato", "fontSize": 22, "align": "left", "baseline": "alphabetic", "color": "#000000", "dx": 32}, "encoding": {"text": {"field": "v"}}},
         {"transform": [{"filter": "datum.k == 'an' && datum.s == 'i'"}], "mark": {"type": "text", "font": "Lato", "fontSize": 22, "align": "left", "baseline": "alphabetic", "color": "#000000", "dx": 26}, "encoding": {"text": {"field": "v"}}}
       ]}
    ]},
    {"spacing": 49, "hconcat": [
      {"width": 582, "height": 320, "data": {"name": "d"}, "transform": [{"filter": "datum.p == 5"}],
       "encoding": {
         "x": {"field": "x", "type": "quantitative", "scale": {"domain": [2.9345, 3.366], "nice": false, "zero": false}, "axis": {"values": [3.0, 3.1, 3.2, 3.3], "format": ".1f", "title": "log weight (g)"}},
         "y": {"field": "y", "type": "quantitative", "scale": {"domain": [11.375, 14.63], "nice": false, "zero": false}, "axis": {"values": [11.5, 12, 12.5, 13, 13.5, 14, 14.5], "format": ".1f", "title": "log diffusion rate in matrix"}}},
       "layer": [
         {"transform": [{"filter": "datum.k == 'ln'"}], "mark": {"type": "line", "strokeWidth": 2.5}, "encoding": {"stroke": {"field": "c", "type": "nominal", "scale": {"domain": ["A", "B"], "range": ["#1aa3dc", "#f04b4b"]}, "legend": null}}},
         {"transform": [{"filter": "datum.k == 'pt'"}], "mark": {"type": "circle", "size": 90, "opacity": 1}, "encoding": {"fill": {"field": "c", "type": "nominal", "scale": {"domain": ["A", "B"], "range": ["#0096d1", "#e93535"]}, "legend": null}}},
         {"transform": [{"filter": "datum.k == 'an'"}], "mark": {"type": "text", "font": "Lato", "fontSize": 22, "align": "left", "baseline": "alphabetic", "color": "#000000"}, "encoding": {"text": {"field": "b"}}},
         {"transform": [{"filter": "datum.k == 'an' && datum.b == 'r'"}], "mark": {"type": "text", "font": "Lato", "fontSize": 14, "align": "left", "baseline": "alphabetic", "color": "#000000", "dx": 9, "dy": -8.5, "text": "2"}},
         {"transform": [{"filter": "datum.k == 'an' && datum.b == 'p'"}], "mark": {"type": "text", "font": "Lato", "fontSize": 14, "align": "left", "baseline": "alphabetic", "color": "#000000", "dx": 13.5, "dy": 5}, "encoding": {"text": {"field": "s"}}},
         {"transform": [{"filter": "datum.k == 'an' && datum.b == 'r'"}], "mark": {"type": "text", "font": "Lato", "fontSize": 14, "align": "left", "baseline": "alphabetic", "color": "#000000", "dx": 10.5, "dy": 5}, "encoding": {"text": {"field": "s"}}},
         {"transform": [{"filter": "datum.k == 'an' && datum.s == 'S'"}], "mark": {"type": "text", "font": "Lato", "fontSize": 22, "align": "left", "baseline": "alphabetic", "color": "#000000", "dx": 28.5}, "encoding": {"text": {"field": "v"}}},
         {"transform": [{"filter": "datum.k == 'an' && datum.s == 'w' && datum.b == 'p'"}], "mark": {"type": "text", "font": "Lato", "fontSize": 22, "align": "left", "baseline": "alphabetic", "color": "#000000", "dx": 32}, "encoding": {"text": {"field": "v"}}},
         {"transform": [{"filter": "datum.k == 'an' && datum.s == 'w' && datum.b == 'r'"}], "mark": {"type": "text", "font": "Lato", "fontSize": 22, "align": "left", "baseline": "alphabetic", "color": "#000000", "dx": 32}, "encoding": {"text": {"field": "v"}}},
         {"transform": [{"filter": "datum.k == 'an' && datum.s == 'i'"}], "mark": {"type": "text", "font": "Lato", "fontSize": 22, "align": "left", "baseline": "alphabetic", "color": "#000000", "dx": 26}, "encoding": {"text": {"field": "v"}}}
       ]},
      {"width": 582, "height": 320, "data": {"name": "d"}, "transform": [{"filter": "datum.p == 6"}],
       "encoding": {
         "x": {"field": "x", "type": "quantitative", "scale": {"domain": [2.9345, 3.366], "nice": false, "zero": false}, "axis": {"values": [3.0, 3.1, 3.2, 3.3], "format": ".1f", "title": "log weight (g)"}},
         "y": {"field": "y", "type": "quantitative", "scale": {"domain": [9.27, 15.74], "nice": false, "zero": false}, "axis": {"values": [10, 11, 12, 13, 14, 15], "title": "log diffusion rate in open areas", "titleY": 174}}},
       "layer": [
         {"transform": [{"filter": "datum.k == 'ln'"}], "mark": {"type": "line", "strokeWidth": 2.5}, "encoding": {"stroke": {"field": "c", "type": "nominal", "scale": {"domain": ["A", "B"], "range": ["#1aa3dc", "#f04b4b"]}, "legend": null}}},
         {"transform": [{"filter": "datum.k == 'pt'"}], "mark": {"type": "circle", "size": 90, "opacity": 1}, "encoding": {"fill": {"field": "c", "type": "nominal", "scale": {"domain": ["A", "B"], "range": ["#0096d1", "#e93535"]}, "legend": null}}},
         {"transform": [{"filter": "datum.k == 'an'"}], "mark": {"type": "text", "font": "Lato", "fontSize": 22, "align": "left", "baseline": "alphabetic", "color": "#000000"}, "encoding": {"text": {"field": "b"}}},
         {"transform": [{"filter": "datum.k == 'an' && datum.b == 'r'"}], "mark": {"type": "text", "font": "Lato", "fontSize": 14, "align": "left", "baseline": "alphabetic", "color": "#000000", "dx": 9, "dy": -8.5, "text": "2"}},
         {"transform": [{"filter": "datum.k == 'an' && datum.b == 'p'"}], "mark": {"type": "text", "font": "Lato", "fontSize": 14, "align": "left", "baseline": "alphabetic", "color": "#000000", "dx": 13.5, "dy": 5}, "encoding": {"text": {"field": "s"}}},
         {"transform": [{"filter": "datum.k == 'an' && datum.b == 'r'"}], "mark": {"type": "text", "font": "Lato", "fontSize": 14, "align": "left", "baseline": "alphabetic", "color": "#000000", "dx": 10.5, "dy": 5}, "encoding": {"text": {"field": "s"}}},
         {"transform": [{"filter": "datum.k == 'an' && datum.s == 'S'"}], "mark": {"type": "text", "font": "Lato", "fontSize": 22, "align": "left", "baseline": "alphabetic", "color": "#000000", "dx": 28.5}, "encoding": {"text": {"field": "v"}}},
         {"transform": [{"filter": "datum.k == 'an' && datum.s == 'w' && datum.b == 'p'"}], "mark": {"type": "text", "font": "Lato", "fontSize": 22, "align": "left", "baseline": "alphabetic", "color": "#000000", "dx": 32}, "encoding": {"text": {"field": "v"}}},
         {"transform": [{"filter": "datum.k == 'an' && datum.s == 'w' && datum.b == 'r'"}], "mark": {"type": "text", "font": "Lato", "fontSize": 22, "align": "left", "baseline": "alphabetic", "color": "#000000", "dx": 32}, "encoding": {"text": {"field": "v"}}},
         {"transform": [{"filter": "datum.k == 'an' && datum.s == 'i'"}], "mark": {"type": "text", "font": "Lato", "fontSize": 22, "align": "left", "baseline": "alphabetic", "color": "#000000", "dx": 26}, "encoding": {"text": {"field": "v"}}}
       ]}
    ]},
    {"width": 582, "height": 320, "data": {"name": "d"}, "transform": [{"filter": "datum.p == 7"}],
     "encoding": {
       "x": {"field": "x", "type": "quantitative", "scale": {"domain": [2.9345, 3.366], "nice": false, "zero": false}, "axis": {"values": [3.0, 3.1, 3.2, 3.3], "format": ".1f", "title": "log weight (g)"}},
       "y": {"field": "y", "type": "quantitative", "scale": {"domain": [-1.77, 5.78], "nice": false, "zero": false}, "axis": {"values": [-1, 0, 1, 2, 3, 4, 5], "title": "logit detection probability", "titleY": 165}}},
     "layer": [
       {"transform": [{"filter": "datum.k == 'ln'"}], "mark": {"type": "line", "strokeWidth": 2.5}, "encoding": {"stroke": {"field": "c", "type": "nominal", "scale": {"domain": ["A", "B"], "range": ["#1aa3dc", "#f04b4b"]}, "legend": null}}},
       {"transform": [{"filter": "datum.k == 'pt'"}], "mark": {"type": "circle", "size": 90, "opacity": 1}, "encoding": {"fill": {"field": "c", "type": "nominal", "scale": {"domain": ["A", "B"], "range": ["#0096d1", "#e93535"]}, "legend": null}}},
       {"transform": [{"filter": "datum.k == 'an'"}], "mark": {"type": "text", "font": "Lato", "fontSize": 22, "align": "left", "baseline": "alphabetic", "color": "#000000"}, "encoding": {"text": {"field": "b"}}},
       {"transform": [{"filter": "datum.k == 'an' && datum.b == 'r'"}], "mark": {"type": "text", "font": "Lato", "fontSize": 14, "align": "left", "baseline": "alphabetic", "color": "#000000", "dx": 9, "dy": -8.5, "text": "2"}},
       {"transform": [{"filter": "datum.k == 'an' && datum.b == 'p'"}], "mark": {"type": "text", "font": "Lato", "fontSize": 14, "align": "left", "baseline": "alphabetic", "color": "#000000", "dx": 13.5, "dy": 5}, "encoding": {"text": {"field": "s"}}},
       {"transform": [{"filter": "datum.k == 'an' && datum.b == 'r'"}], "mark": {"type": "text", "font": "Lato", "fontSize": 14, "align": "left", "baseline": "alphabetic", "color": "#000000", "dx": 10.5, "dy": 5}, "encoding": {"text": {"field": "s"}}},
       {"transform": [{"filter": "datum.k == 'an' && datum.s == 'S'"}], "mark": {"type": "text", "font": "Lato", "fontSize": 22, "align": "left", "baseline": "alphabetic", "color": "#000000", "dx": 28.5}, "encoding": {"text": {"field": "v"}}},
       {"transform": [{"filter": "datum.k == 'an' && datum.s == 'w' && datum.b == 'p'"}], "mark": {"type": "text", "font": "Lato", "fontSize": 22, "align": "left", "baseline": "alphabetic", "color": "#000000", "dx": 32}, "encoding": {"text": {"field": "v"}}},
       {"transform": [{"filter": "datum.k == 'an' && datum.s == 'w' && datum.b == 'r'"}], "mark": {"type": "text", "font": "Lato", "fontSize": 22, "align": "left", "baseline": "alphabetic", "color": "#000000", "dx": 32}, "encoding": {"text": {"field": "v"}}},
       {"transform": [{"filter": "datum.k == 'an' && datum.s == 'i'"}], "mark": {"type": "text", "font": "Lato", "fontSize": 22, "align": "left", "baseline": "alphabetic", "color": "#000000", "dx": 26}, "encoding": {"text": {"field": "v"}}}
     ]}
  ]
}
